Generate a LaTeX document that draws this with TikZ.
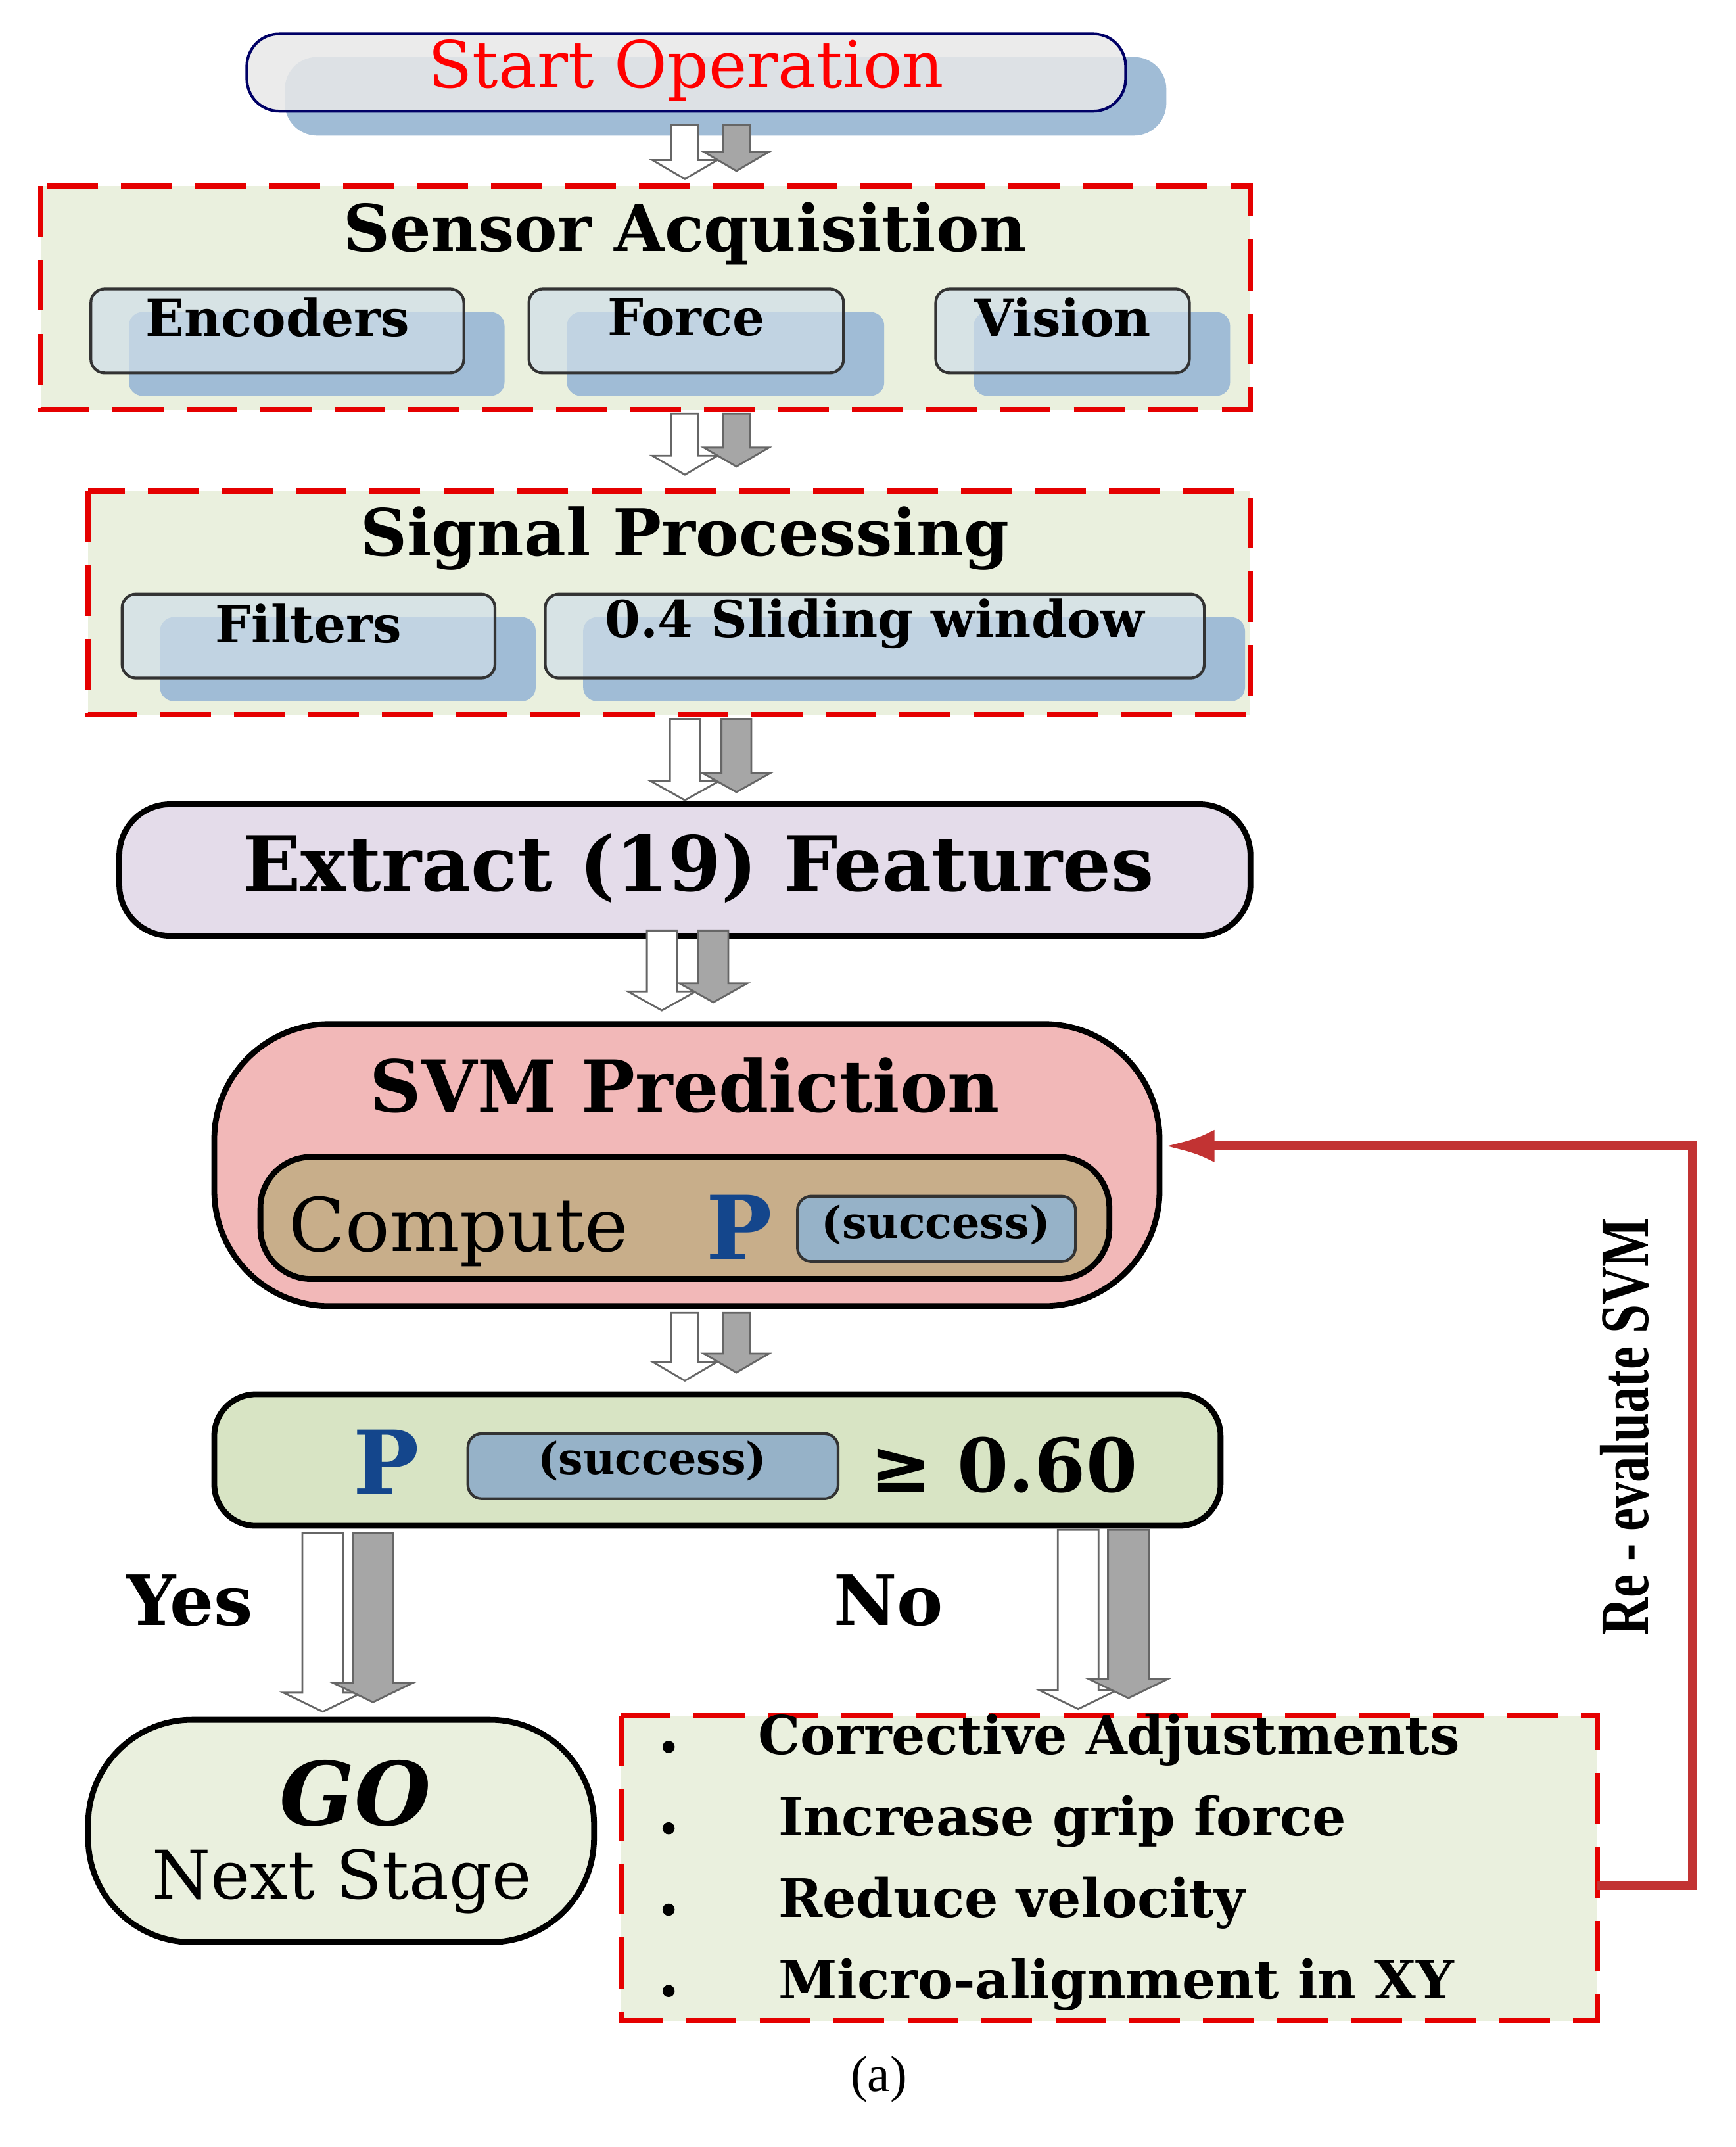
\documentclass[tikz,border=0pt]{standalone}
\usepackage{fontspec}
\usetikzlibrary{arrows.meta}
\setmainfont{DejaVu Serif}
\newfontfamily\lib{Liberation Serif}
\newfontfamily\dej{DejaVu Sans}
\definecolor{pal}{RGB}{234,240,222}
\definecolor{shd}{RGB}{160,188,214}
\definecolor{subf}{RGB}{208,222,232}
\definecolor{lav}{RGB}{228,220,234}
\definecolor{pnk}{RGB}{242,184,184}
\definecolor{tan}{RGB}{200,174,138}
\definecolor{sbx}{RGB}{150,178,200}
\definecolor{dec}{RGB}{216,228,196}
\definecolor{pbl}{RGB}{20,70,140}
\begin{document}
\begin{tikzpicture}[x=0.02063cm,y=-0.02063cm,
 rdash/.style={draw=red!90!black,line width=2.2pt,dash pattern=on 22pt off 10pt,fill=pal},
 sub/.style={draw=black!80,line width=1.2pt,rounded corners=6pt,fill=subf},
 shad/.style={fill=shd,rounded corners=6pt}]
\useasboundingbox (0,0) rectangle (1280,1583);
\newcommand\farrow[5]{% x y1 y2 shaftw style
 \draw[#5] (#1-#4/2,#2)--(#1+#4/2,#2)--(#1+#4/2,#3-14)--(#1+#4/2+14,#3-14)--(#1,#3)--(#1-#4/2-14,#3-14)--(#1-#4/2,#3-14)--cycle;}
\newcommand\dbl[4]{\farrow{#1}{#2}{#3}{#4}{fill=white,draw=black!60,line width=0.8pt}\farrow{#1+38}{#2}{#3-6}{#4}{fill=gray!70,draw=black!60,line width=0.8pt}}
% start
\fill[shd,rounded corners=14pt] (210,42) rectangle (860,100);
\draw[draw=blue!40!black,line width=1.2pt,fill=gray!18,fill opacity=.85,rounded corners=14pt] (182,25) rectangle (830,82);
\node[text=red,font=\fontsize{28}{30}\selectfont] (st) at (506,52) {Start Operation};
\dbl{505}{92}{132}{20}
% sensor
\draw[rdash] (30,137) rectangle (922,302);
\node[font=\bfseries\fontsize{28}{30}\selectfont] (sa) at (505,172) {Sensor Acquisition};
\foreach \a/\b/\n/\s in {67/342/enc/Encoders,390/622/for/Force,690/877/vis/Vision}{
 \fill[shad] (\a+28,230) rectangle (\b+30,292);
 \draw[sub,fill opacity=.7] (\a,213) rectangle (\b,275);
 \node[font=\bfseries\fontsize{22}{24}\selectfont] (\n) at ({(\a+\b)/2},234) {\s};}
\dbl{505}{305}{350}{20}
% signal
\draw[rdash] (65,362) rectangle (922,527);
\node[font=\bfseries\fontsize{28}{30}\selectfont] (sp) at (505,397) {Signal Processing};
\foreach \a/\b/\n/\s in {90/365/fil/Filters,402/888/sli/0.4 Sliding window}{
 \fill[shad] (\a+28,455) rectangle (\b+30,517);
 \draw[sub,fill opacity=.7] (\a,438) rectangle (\b,500);
 \node[font=\bfseries\fontsize{22}{24}\selectfont] (\n) at ({(\a+\b)/2},460) {\s};}
\dbl{505}{530}{590}{22}
% extract
\draw[line width=2.5pt,fill=lav,rounded corners=22pt] (88,593) rectangle (922,690);
\node[font=\bfseries\fontsize{33}{35}\selectfont] (ex) at (515,640) {Extract (19) Features};
\dbl{488}{686}{745}{22}
% SVM
\draw[line width=2.5pt,fill=pnk,rounded corners=50pt] (158,755) rectangle (855,963);
\node[font=\bfseries\fontsize{31}{33}\selectfont] (svm) at (505,800) {SVM Prediction};
\draw[line width=2.5pt,fill=tan,rounded corners=22pt] (192,853) rectangle (818,943);
\node[font=\fontsize{32}{34}\selectfont,anchor=west] (cp) at (207,908) {Compute};
\node[font=\bfseries\fontsize{38}{40}\selectfont,text=pbl] (p1) at (545,905) {P};
\draw[sub,fill=sbx] (588,882) rectangle (793,930);
\node[font=\bfseries\fontsize{19}{21}\selectfont] (s1) at (690,903) {(success)};
\dbl{505}{968}{1018}{20}
% decision
\draw[line width=2.5pt,fill=dec,rounded corners=18pt] (158,1028) rectangle (900,1125);
\node[font=\bfseries\fontsize{38}{40}\selectfont,text=pbl] (p2) at (285,1078) {P};
\draw[sub,fill=sbx] (345,1057) rectangle (618,1105);
\node[font=\bfseries\fontsize{19}{21}\selectfont] (s2) at (481,1077) {(success)};
\node[font=\bfseries\fontsize{32}{34}\selectfont] (ge) at (740,1080) {{\dej ≥} 0.60};
% yes/no arrows
\farrow{238}{1130}{1262}{30}{fill=white,draw=black!60,line width=0.8pt}
\farrow{275}{1130}{1255}{30}{fill=gray!70,draw=black!60,line width=0.8pt}
\farrow{795}{1128}{1260}{30}{fill=white,draw=black!60,line width=0.8pt}
\farrow{832}{1128}{1252}{30}{fill=gray!70,draw=black!60,line width=0.8pt}
\node[font=\bfseries\fontsize{30}{32}\selectfont] (yes) at (140,1180) {Yes};
\node[font=\bfseries\fontsize{30}{32}\selectfont] (no) at (655,1180) {No};
% GO
\draw[line width=2.5pt,fill=pal,rounded corners=45pt] (65,1268) rectangle (438,1432);
\node[font=\bfseries\itshape\fontsize{38}{40}\selectfont] (go) at (262,1322) {GO};
\node[font=\fontsize{29}{31}\selectfont] (ns) at (252,1387) {Next Stage};
% corrective
\draw[rdash] (458,1265) rectangle (1178,1490);
\foreach \y/\s [count=\i] in {1283/Corrective Adjustments,1343/Increase grip force,1403/Reduce velocity,1463/Micro-alignment in XY}{
 \fill (493,\y+5) circle (4.5);
 \node[anchor=west,font=\bfseries\fontsize{23}{25}\selectfont] (c\i) at (\ifnum\i=1 553\else 568\fi,\y) {\s};}
% feedback
\coordinate (f1) at (1178,1390); \coordinate (f2) at (1248,1390); \coordinate (f3) at (1248,845); \coordinate (f4) at (858,845);
\draw[red!70!black!80,line width=4pt,-{Latex[length=22pt,width=14pt]}] (f1)--(f2)--(f3)--(f4);
\node[rotate=90,font=\lib\bfseries\fontsize{30}{32}\selectfont,xscale=0.75] (re) at (1198,1052) {Re - evaluate SVM};
\node[font=\lib\fontsize{22}{24}\selectfont] (a) at (648,1533) {(a)};
\end{tikzpicture}
\end{document}
